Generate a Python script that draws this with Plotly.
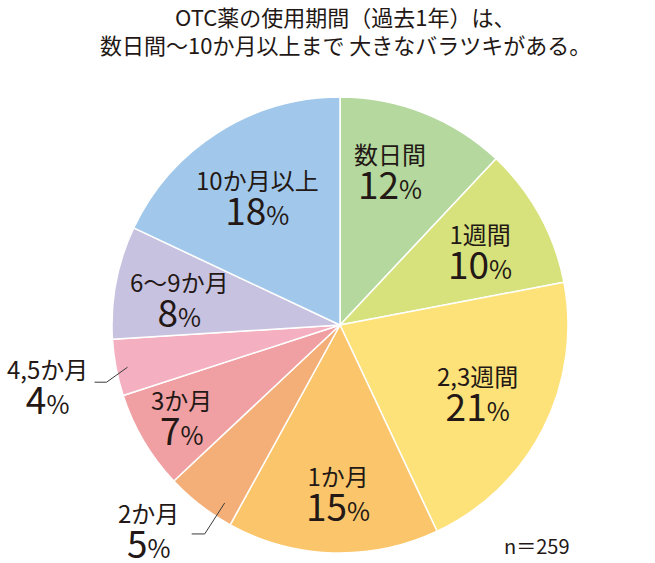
import math
import plotly.graph_objects as go

# ---- data ----
categories = ["数日間", "1週間", "2,3週間", "1か月", "2か月", "3か月", "4,5か月", "6〜9か月", "10か月以上"]
percents = [12, 10, 21, 15, 5, 7, 4, 8, 18]
colors = ["#b4d89d", "#d7e27c", "#fde27a", "#fbc66b", "#f4af78", "#f0a0a3", "#f4b0c1", "#c8c2e1", "#a1c8ea"]
title_lines = ["OTC薬の使用期間（過去1年）は、", "数日間〜10か月以上まで 大きなバラツキがある。"]
n_note = "n＝259"

# ---- layout constants ----
W, H = 655, 563
CX, CY, R = 340, 325, 228
FONT = "Noto Sans CJK JP, Noto Sans, sans-serif"
TXT = "#231815"
# label placement: (fraction across the slice, fraction of radius)
inside_pos = {"数日間": (0.42, 0.70), "1週間": (0.54, 0.69), "2,3週間": (0.5, 0.675), "1か月": (0.48, 0.745),
              "3か月": (0.5, 0.81), "6〜9か月": (0.42, 0.71), "10か月以上": (0.49, 0.66)}
# outside: (fraction across slice, radius frac, elbow dx, elbow dy, horizontal len, text dx, text dy)
outside_pos = {"4,5か月": (0.47, 0.95, -21, 15, -12, -47, 6),
               "2か月": (0.23, 0.93, -20, 31, -13, -43, -2)}


def px(x, y):
    return x / W, 1 - y / H


def polar(deg, r):
    a = math.radians(deg)
    return CX + r * math.sin(a), CY - r * math.cos(a)


fig = go.Figure(go.Pie(
    labels=categories, values=percents, sort=False, direction="clockwise", rotation=0,
    marker=dict(colors=colors, line=dict(color="white", width=1.5)),
    textinfo="none", hoverinfo="label+percent", showlegend=False,
    domain=dict(x=[(CX - R) / W, (CX + R) / W], y=[1 - (CY + R) / H, 1 - (CY - R) / H]),
))

annotations = []
shapes = []


def add_label(x, y, name, pct):
    ax_, ay_ = px(x, y)
    text = (f"<span style='font-size:24px'>{name}</span><br>"
            f"<span style='font-size:37px'>{pct}</span><span style='font-size:25px'>%</span>")
    annotations.append(dict(x=ax_, y=ay_, xref="paper", yref="paper", text=text, showarrow=False,
                            xanchor="center", yanchor="middle", align="center",
                            font=dict(size=27, color=TXT, family=FONT)))


total = sum(percents)
cum = 0
for name, pct in zip(categories, percents):
    a0 = cum / total * 360
    a1 = (cum + pct) / total * 360
    cum += pct
    if name in outside_pos:
        f, rf, edx, edy, hx, tdx, tdy = outside_pos[name]
        p0 = polar(a0 + f * (a1 - a0), R * rf)
        e = (p0[0] + edx, p0[1] + edy)
        end = (e[0] + hx, e[1])
        shapes.append(dict(type="path", xref="paper", yref="paper", line=dict(color="#3a3a3a", width=1),
                           path="M {} {} L {} {} L {} {}".format(*px(*p0), *px(*e), *px(*end))))
        add_label(end[0] + tdx, end[1] + tdy, name, pct)
    else:
        f, rf = inside_pos[name]
        x, y = polar(a0 + f * (a1 - a0), R * rf)
        add_label(x, y, name, pct)

for i, line in enumerate(title_lines):
    tx, ty = px(346, 16 + 28 * i)
    annotations.append(dict(x=tx, y=ty, xref="paper", yref="paper", text=line, showarrow=False,
                            xanchor="center", yanchor="middle", font=dict(size=22, color=TXT, family=FONT)))

nx_, ny_ = px(537, 545)
annotations.append(dict(x=nx_, y=ny_, xref="paper", yref="paper", text=n_note, showarrow=False,
                        xanchor="center", yanchor="middle", font=dict(size=20, color=TXT, family=FONT)))

fig.update_layout(width=W, height=H, margin=dict(l=0, r=0, t=0, b=0),
                  paper_bgcolor="white", plot_bgcolor="white",
                  annotations=annotations, shapes=shapes)
fig.write_html("out.html", config={"displayModeBar": False},
               post_script="document.body.style.margin='0';document.body.style.overflow='hidden';")
